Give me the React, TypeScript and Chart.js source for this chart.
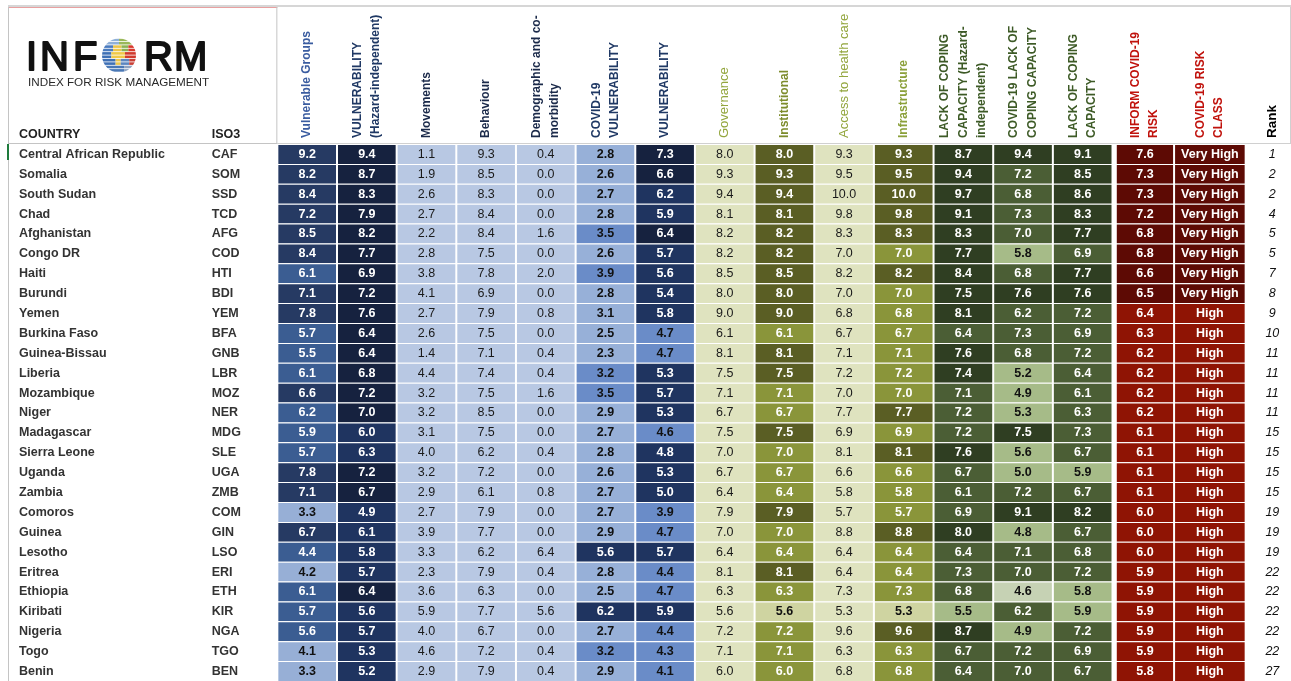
import { useEffect, useRef } from 'react';
import { Chart, registerables } from 'chart.js';

Chart.register(...registerables);

// ---------------- DATA ----------------
const countries = ['Central African Republic', 'Somalia', 'South Sudan', 'Chad', 'Afghanistan', 'Congo DR', 'Haiti', 'Burundi', 'Yemen', 'Burkina Faso', 'Guinea-Bissau', 'Liberia', 'Mozambique', 'Niger', 'Madagascar', 'Sierra Leone', 'Uganda', 'Zambia', 'Comoros', 'Guinea', 'Lesotho', 'Eritrea', 'Ethiopia', 'Kiribati', 'Nigeria', 'Togo', 'Benin'];
const iso3 = ['CAF', 'SOM', 'SSD', 'TCD', 'AFG', 'COD', 'HTI', 'BDI', 'YEM', 'BFA', 'GNB', 'LBR', 'MOZ', 'NER', 'MDG', 'SLE', 'UGA', 'ZMB', 'COM', 'GIN', 'LSO', 'ERI', 'ETH', 'KIR', 'NGA', 'TGO', 'BEN'];
const vulnerableGroups = [9.2, 8.2, 8.4, 7.2, 8.5, 8.4, 6.1, 7.1, 7.8, 5.7, 5.5, 6.1, 6.6, 6.2, 5.9, 5.7, 7.8, 7.1, 3.3, 6.7, 4.4, 4.2, 6.1, 5.7, 5.6, 4.1, 3.3];
const vulnerabilityHazardIndependent = [9.4, 8.7, 8.3, 7.9, 8.2, 7.7, 6.9, 7.2, 7.6, 6.4, 6.4, 6.8, 7.2, 7.0, 6.0, 6.3, 7.2, 6.7, 4.9, 6.1, 5.8, 5.7, 6.4, 5.6, 5.7, 5.3, 5.2];
const movements = [1.1, 1.9, 2.6, 2.7, 2.2, 2.8, 3.8, 4.1, 2.7, 2.6, 1.4, 4.4, 3.2, 3.2, 3.1, 4.0, 3.2, 2.9, 2.7, 3.9, 3.3, 2.3, 3.6, 5.9, 4.0, 4.6, 2.9];
const behaviour = [9.3, 8.5, 8.3, 8.4, 8.4, 7.5, 7.8, 6.9, 7.9, 7.5, 7.1, 7.4, 7.5, 8.5, 7.5, 6.2, 7.2, 6.1, 7.9, 7.7, 6.2, 7.9, 6.3, 7.7, 6.7, 7.2, 7.9];
const demographicComorbidity = [0.4, 0.0, 0.0, 0.0, 1.6, 0.0, 2.0, 0.0, 0.8, 0.0, 0.4, 0.4, 1.6, 0.0, 0.0, 0.4, 0.0, 0.8, 0.0, 0.0, 6.4, 0.4, 0.0, 5.6, 0.0, 0.4, 0.4];
const covidVulnerability = [2.8, 2.6, 2.7, 2.8, 3.5, 2.6, 3.9, 2.8, 3.1, 2.5, 2.3, 3.2, 3.5, 2.9, 2.7, 2.8, 2.6, 2.7, 2.7, 2.9, 5.6, 2.8, 2.5, 6.2, 2.7, 3.2, 2.9];
const vulnerability = [7.3, 6.6, 6.2, 5.9, 6.4, 5.7, 5.6, 5.4, 5.8, 4.7, 4.7, 5.3, 5.7, 5.3, 4.6, 4.8, 5.3, 5.0, 3.9, 4.7, 5.7, 4.4, 4.7, 5.9, 4.4, 4.3, 4.1];
const governance = [8.0, 9.3, 9.4, 8.1, 8.2, 8.2, 8.5, 8.0, 9.0, 6.1, 8.1, 7.5, 7.1, 6.7, 7.5, 7.0, 6.7, 6.4, 7.9, 7.0, 6.4, 8.1, 6.3, 5.6, 7.2, 7.1, 6.0];
const institutional = [8.0, 9.3, 9.4, 8.1, 8.2, 8.2, 8.5, 8.0, 9.0, 6.1, 8.1, 7.5, 7.1, 6.7, 7.5, 7.0, 6.7, 6.4, 7.9, 7.0, 6.4, 8.1, 6.3, 5.6, 7.2, 7.1, 6.0];
const accessToHealthCare = [9.3, 9.5, 10.0, 9.8, 8.3, 7.0, 8.2, 7.0, 6.8, 6.7, 7.1, 7.2, 7.0, 7.7, 6.9, 8.1, 6.6, 5.8, 5.7, 8.8, 6.4, 6.4, 7.3, 5.3, 9.6, 6.3, 6.8];
const infrastructure = [9.3, 9.5, 10.0, 9.8, 8.3, 7.0, 8.2, 7.0, 6.8, 6.7, 7.1, 7.2, 7.0, 7.7, 6.9, 8.1, 6.6, 5.8, 5.7, 8.8, 6.4, 6.4, 7.3, 5.3, 9.6, 6.3, 6.8];
const lackOfCopingHazardIndependent = [8.7, 9.4, 9.7, 9.1, 8.3, 7.7, 8.4, 7.5, 8.1, 6.4, 7.6, 7.4, 7.1, 7.2, 7.2, 7.6, 6.7, 6.1, 6.9, 8.0, 6.4, 7.3, 6.8, 5.5, 8.7, 6.7, 6.4];
const covidLackOfCoping = [9.4, 7.2, 6.8, 7.3, 7.0, 5.8, 6.8, 7.6, 6.2, 7.3, 6.8, 5.2, 4.9, 5.3, 7.5, 5.6, 5.0, 7.2, 9.1, 4.8, 7.1, 7.0, 4.6, 6.2, 4.9, 7.2, 7.0];
const lackOfCoping = [9.1, 8.5, 8.6, 8.3, 7.7, 6.9, 7.7, 7.6, 7.2, 6.9, 7.2, 6.4, 6.1, 6.3, 7.3, 6.7, 5.9, 6.7, 8.2, 6.7, 6.8, 7.2, 5.8, 5.9, 7.2, 6.9, 6.7];
const informCovidRisk = [7.6, 7.3, 7.3, 7.2, 6.8, 6.8, 6.6, 6.5, 6.4, 6.3, 6.2, 6.2, 6.2, 6.2, 6.1, 6.1, 6.1, 6.1, 6.0, 6.0, 6.0, 5.9, 5.9, 5.9, 5.9, 5.9, 5.8];
const riskClass = ['Very High', 'Very High', 'Very High', 'Very High', 'Very High', 'Very High', 'Very High', 'Very High', 'High', 'High', 'High', 'High', 'High', 'High', 'High', 'High', 'High', 'High', 'High', 'High', 'High', 'High', 'High', 'High', 'High', 'High', 'High'];
const ranks = [1, 2, 2, 4, 5, 5, 7, 8, 9, 10, 11, 11, 11, 11, 15, 15, 15, 15, 19, 19, 19, 22, 22, 22, 22, 22, 27];

const headerVulnerableGroups = ['Vulnerable Groups'];
const headerVulnerabilityHI = ['VULNERABILITY', '(Hazard-independent)'];
const headerMovements = ['Movements'];
const headerBehaviour = ['Behaviour'];
const headerDemographic = ['Demographic and co-', 'morbidity'];
const headerCovidVulnerability = ['COVID-19', 'VULNERABILITY'];
const headerVulnerability = ['VULNERABILITY'];
const headerGovernance = ['Governance'];
const headerInstitutional = ['Institutional'];
const headerAccess = ['Access to health care'];
const headerInfrastructure = ['Infrastructure'];
const headerLccHI = ['LACK OF COPING', 'CAPACITY (Hazard-', 'independent)'];
const headerCovidLcc = ['COVID-19 LACK OF', 'COPING CAPACITY'];
const headerLcc = ['LACK OF COPING', 'CAPACITY'];
const headerRisk = ['INFORM COVID-19', 'RISK'];
const headerClass = ['COVID-19 RISK', 'CLASS'];
const headerRank = 'Rank';
const headerCountry = 'COUNTRY';
const headerIso = 'ISO3';

// ---------------- STYLES / LAYOUT ----------------
const FONT = '"Liberation Sans", Arial, Helvetica, sans-serif';
const W = '#ffffff';
const K = '#111111';
type Cls = { min: number; fill: string; text: string };
const NEG = -Infinity;

const lightBlueOnly: Cls[] = [{ min: NEG, fill: '#b8c8e3', text: '#1a1a1a' }];
const lightOliveOnly: Cls[] = [{ min: NEG, fill: '#dfe3bf', text: '#1a1a1a' }];
const oliveScale = (dark: number, mid: number): Cls[] => [
  { min: dark, fill: '#5a5e24', text: W },
  { min: mid, fill: '#8a953a', text: W },
  { min: NEG, fill: '#cfd4a1', text: K },
];

type ColSpec = { values: number[]; header: string[]; headColor: string; headBold: boolean; bold: boolean; classes: Cls[] };

const valueColumns: ColSpec[] = [
  { values: vulnerableGroups, header: headerVulnerableGroups, headColor: '#3a5ca0', headBold: true, bold: true,
    classes: [{ min: 6.55, fill: '#263a63', text: W }, { min: 4.3, fill: '#3b5d92', text: W }, { min: NEG, fill: '#97afd6', text: K }] },
  { values: vulnerabilityHazardIndependent, header: headerVulnerabilityHI, headColor: '#1f3864', headBold: true, bold: true,
    classes: [{ min: 6.35, fill: '#16223f', text: W }, { min: NEG, fill: '#1f3460', text: W }] },
  { values: movements, header: headerMovements, headColor: '#1b2a4a', headBold: true, bold: false, classes: lightBlueOnly },
  { values: behaviour, header: headerBehaviour, headColor: '#1b2a4a', headBold: true, bold: false, classes: lightBlueOnly },
  { values: demographicComorbidity, header: headerDemographic, headColor: '#1b2a4a', headBold: true, bold: false, classes: lightBlueOnly },
  { values: covidVulnerability, header: headerCovidVulnerability, headColor: '#1f3864', headBold: true, bold: true,
    classes: [{ min: 5.0, fill: '#1f3460', text: W }, { min: 3.15, fill: '#6a8cc8', text: K }, { min: NEG, fill: '#97b0d8', text: K }] },
  { values: vulnerability, header: headerVulnerability, headColor: '#1f3864', headBold: true, bold: true,
    classes: [{ min: 6.3, fill: '#16223f', text: W }, { min: 4.75, fill: '#1f3460', text: W }, { min: NEG, fill: '#6a8cc8', text: K }] },
  { values: governance, header: headerGovernance, headColor: '#93a63e', headBold: false, bold: false, classes: lightOliveOnly },
  { values: institutional, header: headerInstitutional, headColor: '#7d8c2c', headBold: true, bold: true, classes: oliveScale(7.45, 5.8) },
  { values: accessToHealthCare, header: headerAccess, headColor: '#93a63e', headBold: false, bold: false, classes: lightOliveOnly },
  { values: infrastructure, header: headerInfrastructure, headColor: '#8ba03a', headBold: true, bold: true, classes: oliveScale(7.45, 5.5) },
  { values: lackOfCopingHazardIndependent, header: headerLccHI, headColor: '#3d5a26', headBold: true, bold: true,
    classes: [{ min: 7.35, fill: '#2f3e22', text: W }, { min: 5.6, fill: '#4b5e35', text: W }, { min: NEG, fill: '#a6bb88', text: K }] },
  { values: covidLackOfCoping, header: headerCovidLcc, headColor: '#3d5a26', headBold: true, bold: true,
    classes: [{ min: 7.4, fill: '#2f3e22', text: W }, { min: 5.95, fill: '#4b5e35', text: W }, { min: 4.7, fill: '#a6bb88', text: K }, { min: NEG, fill: '#c6d2b4', text: K }] },
  { values: lackOfCoping, header: headerLcc, headColor: '#3d5a26', headBold: true, bold: true,
    classes: [{ min: 7.4, fill: '#2f3e22', text: W }, { min: 6.0, fill: '#4b5e35', text: W }, { min: NEG, fill: '#a6bb88', text: K }] },
  { values: informCovidRisk, header: headerRisk, headColor: '#c0120c', headBold: true, bold: true,
    classes: [{ min: 6.45, fill: '#5d0a04', text: W }, { min: NEG, fill: '#8f1404', text: W }] },
];
const classColors: Record<string, string> = { 'Very High': '#5d0a04', High: '#8f1404' };

// column widths in units of one indicator column
const WIDTH_COUNTRY = 3.23;
const WIDTH_ISO = 1.285;
const WIDTH_GAP = 0.055;
const WIDTH_RISK = 0.977;
const WIDTH_CLASS = 1.2;
const WIDTH_RANK = 0.76;

const pick = (cls: Cls[], v: number) => cls.find((c) => v >= c.min - 1e-9) || cls[cls.length - 1];

function buildSpans() {
  const spans: [number, number][] = [];
  let x = WIDTH_COUNTRY + WIDTH_ISO;
  for (let i = 0; i < 14; i++) { spans.push([x, x + 1]); x += 1; }
  x += WIDTH_GAP;
  spans.push([x, x + WIDTH_RISK]); x += WIDTH_RISK;
  const classSpan: [number, number] = [x, x + WIDTH_CLASS]; x += WIDTH_CLASS;
  const rankSpan: [number, number] = [x, x + WIDTH_RANK]; x += WIDTH_RANK;
  return { spans, classSpan, rankSpan, xMax: x };
}

function drawGlobe(ctx: CanvasRenderingContext2D, cx: number, cy: number, r: number) {
  ctx.save();
  ctx.beginPath();
  ctx.arc(cx, cy, r, 0, Math.PI * 2);
  ctx.clip();
  const n = 10;
  const step = (2 * r) / n;
  for (let k = 0; k < n; k++) {
    const y0 = cy - r + k * step;
    const rel = (y0 + step / 2 - cy) / r;
    let segs: [number, number, string][];
    if (rel < -0.6) segs = [[-1, 0.0, '#8fb0d8'], [0.0, 1, '#9ab85a']];
    else if (rel < -0.2) segs = [[-1, -0.35, '#4a7bbf'], [-0.35, 0.15, '#ecc54a'], [0.15, 0.55, '#8db255'], [0.55, 1, '#d8392c']];
    else if (rel < 0.2) segs = [[-1, -0.45, '#3f70b5'], [-0.45, 0.35, '#f0c948'], [0.35, 1, '#d03a2e']];
    else if (rel < 0.6) segs = [[-1, -0.2, '#3f70b5'], [-0.2, 0.1, '#ecc54a'], [0.1, 0.6, '#5b86c0'], [0.6, 1, '#c94037']];
    else segs = [[-1, 0.3, '#4a78b5'], [0.3, 1, '#8ea3c2']];
    for (const [a, b, c] of segs) {
      ctx.fillStyle = c;
      ctx.fillRect(cx + a * r, y0, (b - a) * r, step - 0.8);
    }
  }
  ctx.restore();
}

export default function App() {
  const ref = useRef<HTMLCanvasElement>(null);

  useEffect(() => {
    const { spans, classSpan, rankSpan, xMax } = buildSpans();
    const barCommon = {
      borderColor: '#ffffff',
      borderWidth: { top: 1, bottom: 0, left: 1, right: 1 },
      borderSkipped: false,
      inflateAmount: 0,
      barPercentage: 1,
      categoryPercentage: 1,
      grouped: false,
    };
    const datasets: any[] = valueColumns.map((col, ci) => ({
      ...barCommon,
      label: col.header.join(' '),
      data: countries.map(() => [spans[ci][0], spans[ci][1]]),
      backgroundColor: col.values.map((v) => pick(col.classes, v).fill),
    }));
    datasets.push({
      ...barCommon,
      label: headerClass.join(' '),
      data: countries.map(() => [classSpan[0], classSpan[1]]),
      backgroundColor: riskClass.map((c) => classColors[c]),
    });

    const tablePlugin = {
      id: 'tableText',
      afterDatasetsDraw(chart: any) {
        const ctx: CanvasRenderingContext2D = chart.ctx;
        ctx.save();
        ctx.textAlign = 'center';
        ctx.textBaseline = 'middle';
        valueColumns.forEach((col, ci) => {
          const meta = chart.getDatasetMeta(ci);
          ctx.font = `${col.bold ? 'bold ' : ''}12.5px ${FONT}`;
          meta.data.forEach((el: any, i: number) => {
            const p = el.getProps(['x', 'base', 'y'], true);
            ctx.fillStyle = pick(col.classes, col.values[i]).text;
            ctx.fillText(col.values[i].toFixed(1), (p.x + p.base) / 2, p.y + 0.5);
          });
        });
        const cmeta = chart.getDatasetMeta(valueColumns.length);
        ctx.font = `bold 12.5px ${FONT}`;
        ctx.fillStyle = '#ffffff';
        cmeta.data.forEach((el: any, i: number) => {
          const p = el.getProps(['x', 'base', 'y'], true);
          ctx.fillText(riskClass[i], (p.x + p.base) / 2, p.y + 0.5);
        });
        ctx.restore();
      },
      afterDraw(chart: any) {
        const ctx: CanvasRenderingContext2D = chart.ctx;
        const xs = chart.scales.x;
        const ys = chart.scales.y;
        ctx.save();

        // frame lines
        ctx.fillStyle = '#d6d6d6';
        ctx.fillRect(8, 5, 1283, 2);
        ctx.fillStyle = '#e8a0a0';
        ctx.fillRect(8, 7, xs.getPixelForValue(WIDTH_COUNTRY + WIDTH_ISO) - 8, 1);
        ctx.fillStyle = '#c4c4c4';
        ctx.fillRect(8, 7, 1, 674);
        const sepX = xs.getPixelForValue(WIDTH_COUNTRY + WIDTH_ISO);
        ctx.fillRect(sepX - 1, 7, 1, chart.chartArea.top - 7);
        ctx.fillRect(8, chart.chartArea.top - 1, sepX - 8, 1);
        ctx.fillStyle = '#d0d0d0';
        ctx.fillRect(sepX, chart.chartArea.top - 1, 1291 - sepX, 1);
        ctx.fillRect(1290, 7, 1, chart.chartArea.top - 7);
        ctx.fillStyle = '#1e7b3c';
        ctx.fillRect(7, chart.chartArea.top, 2, 16);

        // logo
        ctx.fillStyle = '#111111';
        ctx.textBaseline = 'alphabetic';
        ctx.textAlign = 'left';
        ctx.font = `40px ${FONT}`;
        ctx.lineWidth = 1.8;
        ctx.lineJoin = 'round';
        ctx.strokeStyle = '#111111';
        const letters: [string, number][] = [['I', 26], ['N', 40], ['F', 73], ['R', 144], ['M', 174]];
        letters.forEach(([t, x]) => { ctx.fillText(t, x, 70); ctx.strokeText(t, x, 70); });
        drawGlobe(ctx, 119, 55.5, 17);
        ctx.font = `11.7px ${FONT}`;
        ctx.fillStyle = '#2a2a2a';
        ctx.fillText('INDEX FOR RISK MANAGEMENT', 28, 86);

        // column titles
        ctx.font = `bold 12.5px ${FONT}`;
        ctx.fillStyle = '#222222';
        ctx.textBaseline = 'middle';
        ctx.fillText(headerCountry, xs.getPixelForValue(0) + 11, 134.5);
        ctx.fillText(headerIso, xs.getPixelForValue(WIDTH_COUNTRY) + 11, 134.5);

        // rotated headers
        const drawRot = (lines: string[], cx: number, color: string, font: string) => {
          ctx.font = font;
          ctx.fillStyle = color;
          const lh = 18.5;
          lines.forEach((ln, li) => {
            const x = cx + (li - (lines.length - 1) / 2) * lh;
            ctx.save();
            ctx.translate(x, 138);
            ctx.rotate(-Math.PI / 2);
            ctx.textAlign = 'left';
            ctx.textBaseline = 'middle';
            ctx.fillText(ln, 0, 0);
            ctx.restore();
          });
        };
        valueColumns.forEach((col, ci) => {
          const cx = xs.getPixelForValue((spans[ci][0] + spans[ci][1]) / 2);
          drawRot(col.header, cx, col.headColor, col.headBold ? `bold 12px ${FONT}` : `13px ${FONT}`);
        });
        drawRot(headerClass, xs.getPixelForValue((classSpan[0] + classSpan[1]) / 2), '#c0120c', `bold 12px ${FONT}`);
        drawRot([headerRank], xs.getPixelForValue((rankSpan[0] + rankSpan[1]) / 2) + 4, '#000000', `bold 13.5px ${FONT}`);

        // row labels
        ctx.textAlign = 'left';
        ctx.textBaseline = 'middle';
        countries.forEach((name, i) => {
          const y = ys.getPixelForValue(i) + 0.5;
          ctx.font = `bold 12.5px ${FONT}`;
          ctx.fillStyle = '#333333';
          ctx.fillText(name, xs.getPixelForValue(0) + 11, y);
          ctx.fillText(iso3[i], xs.getPixelForValue(WIDTH_COUNTRY) + 11, y);
          ctx.font = `italic 12.5px ${FONT}`;
          ctx.fillStyle = '#111111';
          ctx.textAlign = 'center';
          ctx.fillText(String(ranks[i]), xs.getPixelForValue((rankSpan[0] + rankSpan[1]) / 2) + 4, y);
          ctx.textAlign = 'left';
        });
        ctx.restore();
      },
    };

    const chart = new Chart(ref.current as HTMLCanvasElement, {
      type: 'bar',
      data: { labels: countries, datasets },
      options: {
        animation: false,
        responsive: false,
        indexAxis: 'y',
        events: [],
        layout: { padding: { left: 8, top: 144, right: 0, bottom: 0 } },
        plugins: { legend: { display: false }, tooltip: { enabled: false }, title: { display: false } },
        scales: {
          x: { type: 'linear', min: 0, max: xMax, display: false },
          y: { type: 'category', display: false, offset: true },
        },
      } as any,
      plugins: [tablePlugin],
    });
    return () => chart.destroy();
  }, []);

  return (
    <div style={{ position: 'fixed', left: 0, top: 0, width: 1291, height: 681, background: '#ffffff', overflow: 'hidden' }}>
      <canvas ref={ref} width={1291} height={681} style={{ display: 'block', width: 1291, height: 681 }} />
    </div>
  );
}
